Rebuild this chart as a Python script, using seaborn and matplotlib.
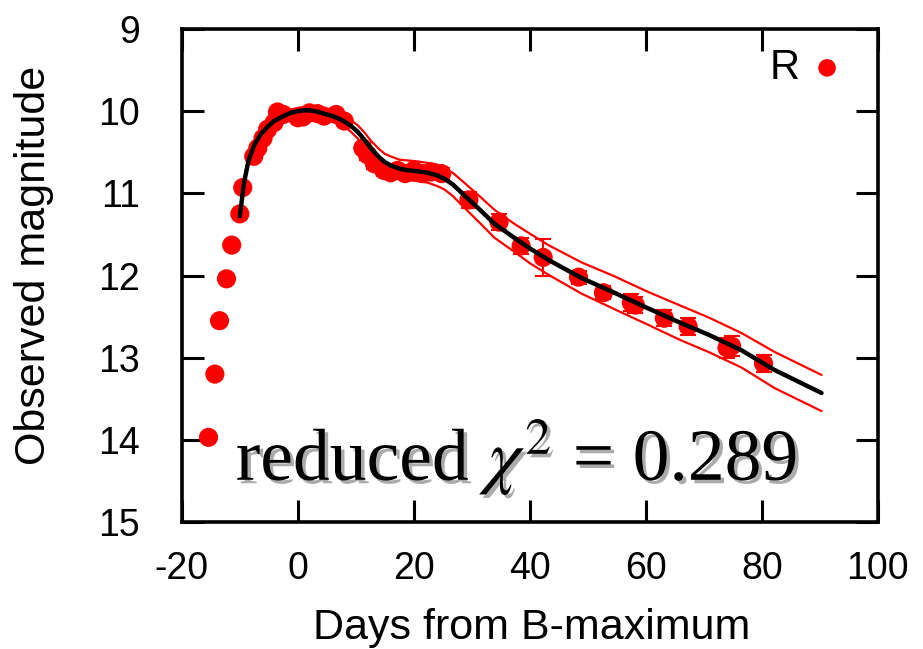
import numpy as np
import pandas as pd
import matplotlib
matplotlib.use("Agg")
import matplotlib.pyplot as plt
import matplotlib.patheffects as pe
import seaborn as sns

# ---- data ----
obs_days = [-15.4, -14.3, -13.5, -12.3, -11.4, -10.0, -9.5, -7.6, -6.9, -6.0, -5.2,
            -4.1, -3.5, -2.5, 0.0, 0.9, 2.0, 3.4, 4.5, 6.6, 8.0, 11.2, 12.0, 13.2,
            14.8, 16.0, 17.2, 18.5, 20.0, 21.5, 23.0, 24.8, 29.5, 34.7, 38.5, 42.3,
            48.4, 52.7, 57.5, 58.2, 63.2, 67.3, 74.0, 74.8, 80.3]
obs_mag = [13.97, 13.20, 12.55, 12.04, 11.63, 11.25, 10.93, 10.55, 10.45, 10.33, 10.22,
           10.14, 10.01, 10.04, 10.08, 10.07, 10.02, 10.03, 10.06, 10.04, 10.12, 10.45, 10.53, 10.64,
           10.72, 10.75, 10.72, 10.76, 10.72, 10.76, 10.74, 10.76, 11.08, 11.35, 11.64, 11.78,
           12.02, 12.21, 12.33, 12.36, 12.52, 12.62, 12.88, 12.86, 13.07]
obs_err = [0.02, 0.02, 0.02, 0.02, 0.02, 0.03, 0.03, 0.03, 0.03, 0.03, 0.03,
           0.03, 0.03, 0.04, 0.04, 0.04, 0.04, 0.04, 0.04, 0.04, 0.05, 0.06, 0.06, 0.06,
           0.07, 0.07, 0.07, 0.07, 0.07, 0.07, 0.07, 0.07, 0.10, 0.10, 0.10, 0.22,
           0.08, 0.08, 0.10, 0.10, 0.10, 0.10, 0.12, 0.12, 0.10]

fit_days = [-10.0, -9.3, -8.5, -7.5, -6.4, -5.2, -4.1, -2.5, -1.2, 0.0, 1.0, 2.0, 3.0, 4.5, 6.0, 7.4,
            9.0, 10.3, 11.5, 12.6, 14.0, 15.0, 16.0, 17.5, 19.0, 20.5, 22.4, 24.0, 25.2, 26.7,
            28.2, 31.1, 33.9, 37.3, 40.0, 43.2, 48.9, 54.6, 60.4, 66.1, 70.8, 76.5, 82.2, 90.3]
fit_mag = [11.28, 10.88, 10.60, 10.41, 10.28, 10.19, 10.12, 10.06, 10.02, 10.00, 9.99, 9.99, 10.00, 10.03, 10.06, 10.10,
           10.17, 10.25, 10.35, 10.45, 10.56, 10.62, 10.66, 10.70, 10.72, 10.73, 10.75, 10.78, 10.82, 10.89,
           10.99, 11.18, 11.37, 11.54, 11.67, 11.81, 12.03, 12.21, 12.40, 12.58, 12.72, 12.91, 13.15, 13.43]
fit_sigma = [0.03, 0.03, 0.03, 0.04, 0.04, 0.04, 0.04, 0.04, 0.04, 0.04, 0.04, 0.04, 0.04, 0.05, 0.05, 0.06,
             0.07, 0.08, 0.09, 0.09, 0.10, 0.10, 0.11, 0.11, 0.12, 0.12, 0.12, 0.13, 0.13, 0.14,
             0.15, 0.16, 0.17, 0.17, 0.18, 0.18, 0.19, 0.20, 0.20, 0.21, 0.21, 0.21, 0.22, 0.22]

band_label = "R"
chi2_text = r"reduced $\chi^2$ = 0.289"
xticks = [-20, 0, 20, 40, 60, 80, 100]
yticks = [9, 10, 11, 12, 13, 14, 15]

obs = pd.DataFrame({"day": obs_days, "mag": obs_mag, "err": obs_err})
fit = pd.DataFrame({"day": fit_days, "mag": fit_mag, "sig": fit_sigma})
fit["up"] = fit["mag"] - fit["sig"]
fit["lo"] = fit["mag"] + fit["sig"]

# ---- style ----
sns.set_theme(style="white")
plt.rcParams["font.family"] = ["Liberation Sans", "DejaVu Sans"]
plt.rcParams["mathtext.fontset"] = "stix"
plt.rcParams["text.color"] = "black"
plt.rcParams["axes.labelcolor"] = "black"

fig = plt.figure(figsize=(9.23, 6.49), dpi=100)
ax = fig.add_axes([0.197, 0.1957, 0.754, 0.7596])

red = "#ff0000"
ax.errorbar(obs["day"], obs["mag"], yerr=obs["err"], fmt="none", ecolor=red,
            elinewidth=1.5, capsize=6, capthick=1.5, zorder=2)
sns.scatterplot(data=obs, x="day", y="mag", ax=ax, color=red, s=190,
                edgecolor="none", zorder=3, label=band_label)
sns.lineplot(data=fit, x="day", y="up", ax=ax, color=red, lw=1.6, zorder=4, legend=False)
sns.lineplot(data=fit, x="day", y="lo", ax=ax, color=red, lw=1.6, zorder=4, legend=False)
sns.lineplot(data=fit, x="day", y="mag", ax=ax, color="black", lw=3.2, zorder=5, legend=False)

ax.set_xlim(-20, 100)
ax.set_ylim(15, 9)
ax.set_xticks(xticks)
ax.set_yticks(yticks)
ax.set_xticklabels([str(t) for t in xticks])
ax.set_yticklabels([str(t) for t in yticks])
ax.tick_params(direction="in", length=16, width=2.2, labelsize=27, colors="black",
               labelcolor="black", top=True, right=True, bottom=True, left=True)
ax.tick_params(axis="x", pad=21)
ax.tick_params(axis="y", pad=30)
for sp in ax.spines.values():
    sp.set_linewidth(2.6)
    sp.set_color("black")
    sp.set_visible(True)

ax.set_xlabel("Days from B-maximum", fontsize=31, color="black", va="center")
ax.set_ylabel("Observed magnitude", fontsize=31, color="black", va="center")
ax.xaxis.set_label_coords(0.503, -0.215)
ax.yaxis.set_label_coords(-0.212, 0.521)

leg = ax.legend(loc="upper right", frameon=False, markerfirst=False, fontsize=30,
                handletextpad=0.25, borderaxespad=0.3, handlelength=0.8,
                bbox_to_anchor=(0.993, 1.021))
for t in leg.get_texts():
    t.set_color("black")
for h in leg.legend_handles:
    h.set_sizes([160])

ax.text(-10.7, 14.49, chi2_text, fontsize=53, family="Liberation Serif",
        color="black", ha="left", va="baseline", zorder=6,
        path_effects=[pe.SimplePatchShadow(offset=(2.5, -2.5), shadow_rgbFace="#888888", alpha=0.7),
                      pe.Normal()])

fig.savefig("out.png", dpi=100, facecolor="white")
